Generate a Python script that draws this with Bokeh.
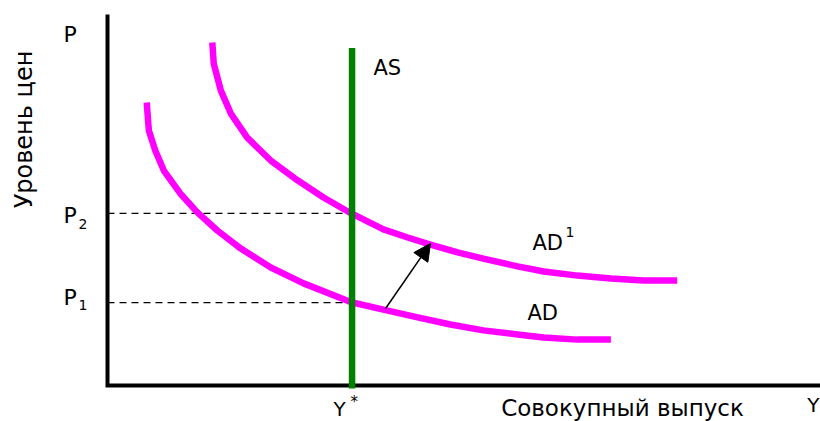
from bokeh.plotting import figure
from bokeh.models import Range1d, Arrow, NormalHead
from bokeh.embed import file_html
from bokeh.resources import INLINE
from bokeh.core.properties import value
import math

# ---------------- data ----------------
ad_x = [0.55, 0.58, 0.67, 0.79, 1.02, 1.26, 1.54, 1.87, 2.29, 2.75, 3.42, 3.87,
        4.35, 4.81, 5.27, 5.75, 6.12, 6.59, 7.06]
ad_y = [7.65, 6.89, 6.35, 5.81, 5.19, 4.68, 4.19, 3.70, 3.19, 2.76, 2.25, 2.05,
        1.84, 1.65, 1.49, 1.38, 1.30, 1.24, 1.24]

ad1_x = [1.47, 1.49, 1.59, 1.73, 1.96, 2.29, 2.67, 3.03, 3.42, 3.87, 4.21, 4.53,
         4.91, 5.27, 5.75, 6.12, 6.59, 7.06, 7.52, 7.99]
ad1_y = [9.27, 8.70, 7.97, 7.35, 6.70, 6.08, 5.54, 5.08, 4.65, 4.22, 4.00, 3.81,
         3.60, 3.43, 3.22, 3.08, 2.97, 2.89, 2.84, 2.84]

Y_STAR = 3.43
P1 = 2.24
P2 = 4.65
AS_BOTTOM = -0.08
AS_TOP = 9.12
AXIS_X_MAX = 10.0
AXIS_Y_MAX = 10.03
arrow_from = (3.90, 2.08)
arrow_to = (4.53, 3.84)

labels_axis = ["P", "Y", "Уровень цен", "Совокупный выпуск"]
labels_curves = ["AS", "AD", "AD", "1"]

# ---------------- layout ----------------
W, H = 820, 421
XPX = 71.3   # pixels per x unit
YPX = 37.0   # pixels per y unit
ORIGIN_PX = (107, 385)   # picture position of the origin
BASELINE_FIX = 8         # svg text baseline correction (px)


def dx(px):
    return (px - ORIGIN_PX[0]) / XPX


def dy(py):
    return (ORIGIN_PX[1] - py) / YPX


def ty(py):
    return dy(py - BASELINE_FIX)


x_range = Range1d(dx(0), dx(W))
y_range = Range1d(dy(H), dy(0))

p = figure(width=W, height=H, x_range=x_range, y_range=y_range,
           output_backend="svg", toolbar_location=None,
           min_border=0, background_fill_color="white",
           border_fill_color="white", outline_line_color=None)
p.axis.visible = False
p.grid.visible = False

FONT = value("DejaVu Sans")

# axes
p.line([0, 0, AXIS_X_MAX], [AXIS_Y_MAX, 0, 0], line_color="black",
       line_width=4, line_join="miter")

# dashed guides
for lvl in (P1, P2):
    p.line([0, Y_STAR], [lvl, lvl], line_color="black", line_width=1.3,
           line_dash="7 5")

# AD curves
p.line(ad_x, ad_y, line_color="#ff00ff", line_width=6.5, line_join="round")
p.line(ad1_x, ad1_y, line_color="#ff00ff", line_width=6.5, line_join="round")

# AS
p.line([Y_STAR, Y_STAR], [AS_BOTTOM, AS_TOP], line_color="#008000",
       line_width=6.5)

# shift arrow
p.add_layout(Arrow(end=NormalHead(size=17, fill_color="black",
                                  line_color="black", line_width=1),
                   x_start=arrow_from[0], y_start=arrow_from[1],
                   x_end=arrow_to[0], y_end=arrow_to[1],
                   line_color="black", line_width=1.5))


def txt(x, y, t, size, align="left", baseline="alphabetic", angle=0.0):
    p.text(x=[x], y=[y], text=[t], text_font=FONT,
           text_font_size=f"{size}px", text_color="black",
           text_align=align, text_baseline=baseline, angle=angle)


# axis texts
txt(dx(63), ty(42), labels_axis[0], 22)
txt(dx(63), ty(223), "P", 22)
txt(dx(78), ty(231), "2", 14)
txt(dx(63), ty(305), "P", 22)
txt(dx(78), ty(312), "1", 14)
txt(dx(23), dy(129), labels_axis[2], 24, align="center",
    baseline="middle", angle=math.pi / 2)
txt(dx(622), ty(415), labels_axis[3], 23, align="center")
txt(dx(819), ty(412), labels_axis[1], 20, align="right")
txt(dx(333), ty(416), "Y", 20)
txt(dx(350), ty(409), "*", 15)

# curve labels
txt(dx(373), ty(75), labels_curves[0], 21)
txt(dx(532), ty(250), labels_curves[2], 21)
txt(dx(565), ty(239), labels_curves[3], 14)
txt(dx(527), ty(320), labels_curves[1], 21)

open("out.html", "w").write(file_html(p, INLINE))
